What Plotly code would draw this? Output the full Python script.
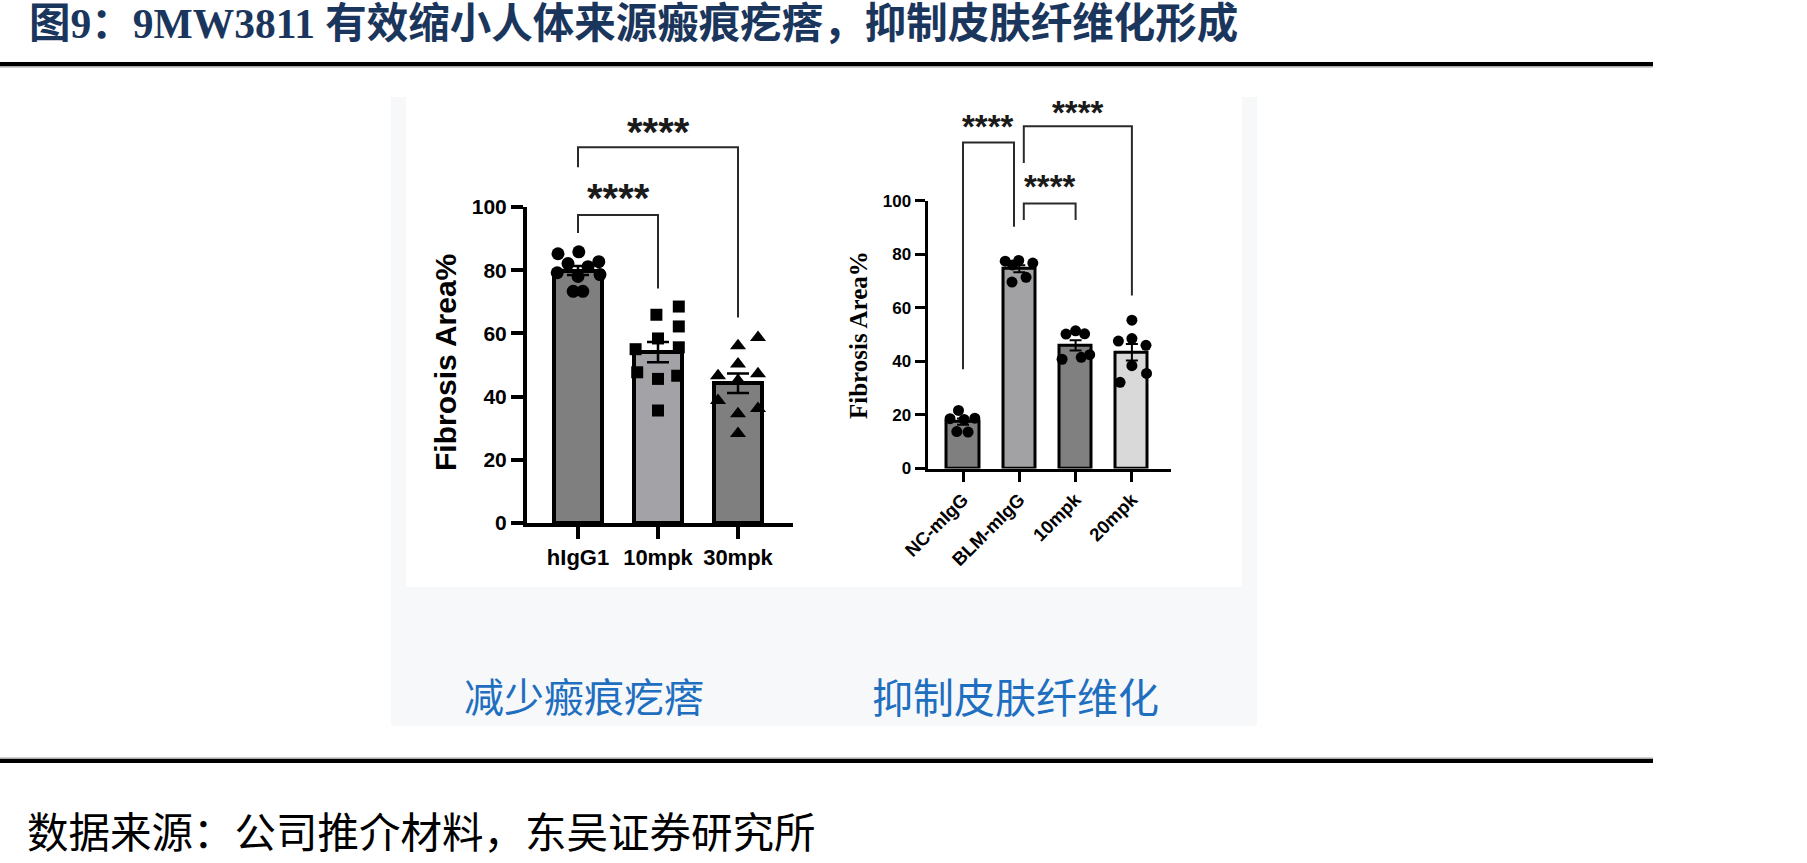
import plotly.graph_objects as go

W, H = 1807, 863

# ---------------- data: left panel (keloid) ----------------
left_groups = ["hIgG1", "10mpk", "30mpk"]
left_means = [79.9, 54.1, 44.2]
left_sem = [1.4, 3.2, 3.1]
left_pts = [
    [85.2, 85.8, 82.1, 82.7, 81.1, 79.2, 78.0, 78.6, 73.3, 73.3],
    [65.9, 68.5, 62.2, 58.4, 55.0, 55.6, 47.7, 45.6, 46.6, 35.6],
    [58.7, 56.1, 50.3, 47.2, 46.6, 45.1, 38.8, 36.2, 34.6, 28.3],
]
left_jitter = [
    [-0.25, 0.01, -0.125, 0.26, 0.125, -0.26, 0.0, 0.275, -0.06, 0.06],
    [-0.02, 0.26, 0.26, 0.0, -0.28, 0.26, -0.26, 0.0, 0.24, 0.0],
    [0.25, 0.0, 0.0, 0.25, -0.25, 0.0, -0.25, 0.25, 0.0, 0.0],
]
# brackets: (x start, x end, top, left leg end, right leg end)
left_brackets = [(0, 1, 97.5, 91.8, 74.2), (0, 2, 118.9, 112.6, 65.0)]
left_stars = [(0.5, 104.4, "****"), (1.0, 125.2, "****")]

# ---------------- data: right panel (skin fibrosis) ----------------
right_groups = ["NC-mIgG", "BLM-mIgG", "10mpk", "20mpk"]
right_means = [17.5, 74.6, 46.0, 43.4]
right_sem = [1.2, 1.3, 1.9, 3.1]
right_pts = [
    [21.7, 18.6, 18.3, 18.8, 13.8, 13.6],
    [77.4, 77.7, 76.7, 76.0, 69.6, 71.4],
    [50.2, 51.4, 50.3, 40.8, 41.5, 42.5],
    [55.4, 47.6, 48.5, 46.0, 38.4, 35.5, 32.2],
]
right_jitter = [
    [-0.08, -0.23, 0.02, 0.21, -0.11, 0.09],
    [-0.25, -0.01, 0.24, -0.12, -0.13, 0.12],
    [-0.17, 0.0, 0.16, -0.24, 0.10, 0.25],
    [0.0, -0.24, 0.0, 0.25, 0.0, 0.26, -0.21],
]
right_brackets = [(0, 0.906, 121.7, 37.1, 90.3), (1.08, 3.0, 127.8, 114.1, 64.6), (1.08, 2.0, 99.0, 92.8, 92.8)]
right_stars = [(0.45, 128.9, "****"), (2.04, 134.4, "****"), (1.54, 106.6, "****")]

title_text = "图9：9MW3811 有效缩小人体来源瘢痕疙瘩，抑制皮肤纤维化形成"
sub_left = "减少瘢痕疙瘩"
sub_right = "抑制皮肤纤维化"
source_text = "数据来源：公司推介材料，东吴证券研究所"

# ---------------- styles ----------------
left_colors = ["#7f7f7f", "#a2a2a7", "#7f7f7f"]
right_colors = ["#7f7f7f", "#a2a2a5", "#808080", "#d9d9d9"]
left_symbols = ["circle", "square", "triangle-up"]
left_sizes = [13, 12, 14]
SANS = "Liberation Sans, Arial, sans-serif"
SERIF = "Liberation Serif, Times New Roman, serif"


def xd(a, b):
    return [a / W, b / W]


def yd(top, bottom):
    return [1 - bottom / H, 1 - top / H]


fig = go.Figure()

# ---- left panel traces ----
fig.add_trace(go.Bar(
    x=list(range(len(left_groups))), y=left_means, width=0.59,
    marker=dict(color=left_colors, line=dict(color="black", width=4)),
    error_y=dict(type="data", array=left_sem, color="black", thickness=2.5, width=11),
    xaxis="x", yaxis="y", hoverinfo="skip", showlegend=False))
for i, pts in enumerate(left_pts):
    fig.add_trace(go.Scatter(
        x=[i + j for j in left_jitter[i]], y=pts, mode="markers",
        marker=dict(symbol=left_symbols[i], size=left_sizes[i], color="black", line=dict(width=0)),
        cliponaxis=False, xaxis="x", yaxis="y", hoverinfo="skip", showlegend=False))
for (x0, x1, top, l0, l1) in left_brackets:
    fig.add_trace(go.Scatter(
        x=[x0, x0, x1, x1], y=[l0, top, top, l1], mode="lines",
        line=dict(color="#2a2a2a", width=2), xaxis="x3", yaxis="y3",
        hoverinfo="skip", showlegend=False))

# ---- right panel traces ----
fig.add_trace(go.Bar(
    x=list(range(len(right_groups))), y=right_means, width=0.57,
    marker=dict(color=right_colors, line=dict(color="black", width=3)),
    error_y=dict(type="data", array=right_sem, color="black", thickness=2, width=6),
    xaxis="x2", yaxis="y2", hoverinfo="skip", showlegend=False))
for i, pts in enumerate(right_pts):
    fig.add_trace(go.Scatter(
        x=[i + j for j in right_jitter[i]], y=pts, mode="markers",
        marker=dict(symbol="circle", size=11, color="black", line=dict(width=0)),
        cliponaxis=False, xaxis="x2", yaxis="y2", hoverinfo="skip", showlegend=False))
for (x0, x1, top, l0, l1) in right_brackets:
    fig.add_trace(go.Scatter(
        x=[x0, x0, x1, x1], y=[l0, top, top, l1], mode="lines",
        line=dict(color="#2a2a2a", width=2), xaxis="x4", yaxis="y4",
        hoverinfo="skip", showlegend=False))

# ---- axes geometry (pixels) ----
L_left, L_right, L_top, L_bot = 527, 793, 207, 523
L_cat0, L_step = 578, 80
L_xr = [-(L_cat0 - L_left) / L_step, (len(left_groups) - 1) + (L_right - (L_cat0 + 2 * L_step)) / L_step]
L_brk_top = 100
L_brk_range = [0, 100 * (L_bot - L_brk_top) / (L_bot - L_top)]

R_left, R_right, R_top, R_bot = 927.5, 1171, 200.7, 468.5
R_cat0, R_step = 963, 56.3
R_xr = [-(R_cat0 - R_left) / R_step, 3 + (R_right - (R_cat0 + 3 * R_step)) / R_step]
R_brk_top = 95
R_brk_range = [0, 100 * (R_bot - R_brk_top) / (R_bot - R_top)]

common = dict(showgrid=False, zeroline=False, fixedrange=True, automargin=False)
hidden = dict(visible=False, showgrid=False, zeroline=False, fixedrange=True)

fig.update_layout(
    width=W, height=H, margin=dict(l=0, r=0, t=0, b=0, autoexpand=False),
    paper_bgcolor="white", plot_bgcolor="rgba(0,0,0,0)", template="none",
    showlegend=False, bargap=0,
    xaxis=dict(domain=xd(L_left, L_right), range=L_xr, anchor="y",
               tickmode="array", tickvals=list(range(len(left_groups))), ticktext=left_groups,
               ticks="outside", ticklen=12, tickwidth=4, tickcolor="black",
               showline=True, linewidth=4, linecolor="black",
               tickfont=dict(family=SANS, size=22, color="black", weight="bold"), **common),
    yaxis=dict(domain=yd(L_top, L_bot), range=[0, 100], anchor="x",
               tickmode="array", tickvals=[0, 20, 40, 60, 80, 100],
               ticks="outside", ticklen=12, tickwidth=4, tickcolor="black",
               showline=True, linewidth=4, linecolor="black",
               tickfont=dict(family=SANS, size=21, color="black", weight="bold"), **common),
    xaxis3=dict(domain=xd(L_left, L_right), range=L_xr, anchor="y3", **hidden),
    yaxis3=dict(domain=yd(L_brk_top, L_bot), range=L_brk_range, anchor="x3", **hidden),
    xaxis2=dict(domain=xd(R_left, R_right), range=R_xr, anchor="y2",
                tickmode="array", tickvals=list(range(len(right_groups))), ticktext=right_groups,
                ticks="outside", ticklen=10, tickwidth=3, tickcolor="black", tickangle=-45,
                showline=True, linewidth=3, linecolor="black",
                tickfont=dict(family=SANS, size=18.5, color="black", weight="bold"), **common),
    yaxis2=dict(domain=yd(R_top, R_bot), range=[0, 100], anchor="x2",
                tickmode="array", tickvals=[0, 20, 40, 60, 80, 100],
                ticks="outside", ticklen=10, tickwidth=3, tickcolor="black",
                showline=True, linewidth=3, linecolor="black",
                tickfont=dict(family=SANS, size=17, color="black", weight="bold"), **common),
    xaxis4=dict(domain=xd(R_left, R_right), range=R_xr, anchor="y4", **hidden),
    yaxis4=dict(domain=yd(R_brk_top, R_bot), range=R_brk_range, anchor="x4", **hidden),
)

# ---- background panels and rules (paper coordinates) ----
def prect(x0, y0, x1, y1, color):
    fig.add_shape(type="rect", xref="paper", yref="paper",
                  x0=x0 / W, x1=x1 / W, y0=1 - y1 / H, y1=1 - y0 / H,
                  fillcolor=color, line=dict(width=0), layer="below")

prect(391, 97, 1257, 726, "#f7f8fa")
prect(406, 97, 1242, 587, "#ffffff")
prect(0, 62, 1653, 66, "#000000")
prect(0, 66, 1653, 67.5, "#a8a8a8")
prect(0, 757.5, 1653, 759, "#a8a8a8")
prect(0, 759, 1653, 763, "#000000")

# ---- annotations ----
ann = []
for (x, y, t) in left_stars:
    ann.append(dict(x=x, y=y, xref="x3", yref="y3", text=t, showarrow=False,
                    xanchor="center", yanchor="middle", yshift=-4.5,
                    font=dict(family=SANS, size=40, color="#1a1a1a", weight="bold")))
for (x, y, t) in right_stars:
    ann.append(dict(x=x, y=y, xref="x4", yref="y4", text=t, showarrow=False,
                    xanchor="center", yanchor="middle", yshift=-3.5,
                    font=dict(family=SANS, size=33, color="#1a1a1a", weight="bold")))

ann.append(dict(x=445 / W, y=1 - 363 / H, xref="paper", yref="paper", text="Fibrosis Area%",
                textangle=-90, showarrow=False, xanchor="center", yanchor="middle",
                font=dict(family=SANS, size=30, color="black", weight="bold")))
ann.append(dict(x=858 / W, y=1 - 335 / H, xref="paper", yref="paper", text="Fibrosis Area%",
                textangle=-90, showarrow=False, xanchor="center", yanchor="middle",
                font=dict(family=SERIF, size=25, color="black", weight="bold")))

ann.append(dict(x=27 / W, y=1 - 24 / H, xref="paper", yref="paper", text=title_text,
                showarrow=False, xanchor="left", yanchor="middle",
                font=dict(family="Liberation Serif, Noto Sans CJK SC", size=41.5, color="#1b365d", weight="bold")))
ann.append(dict(x=584 / W, y=1 - 695 / H, xref="paper", yref="paper", text=sub_left,
                showarrow=False, xanchor="center", yanchor="middle",
                font=dict(family="Noto Sans CJK SC", size=40, color="#1f6fc0")))
ann.append(dict(x=1016 / W, y=1 - 695 / H, xref="paper", yref="paper", text=sub_right,
                showarrow=False, xanchor="center", yanchor="middle",
                font=dict(family="Noto Sans CJK SC", size=41, color="#1f6fc0")))
ann.append(dict(x=25 / W, y=1 - 830 / H, xref="paper", yref="paper", text=source_text,
                showarrow=False, xanchor="left", yanchor="middle",
                font=dict(family="Noto Sans CJK SC", size=41.5, color="black")))

fig.update_layout(annotations=ann)

fig.write_html("out.html", config={"displayModeBar": False})
